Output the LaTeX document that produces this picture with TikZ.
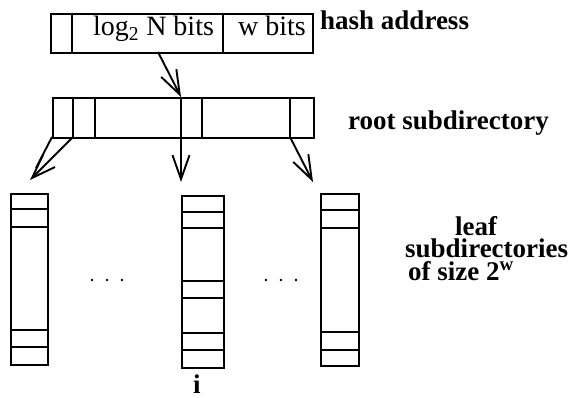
\documentclass[tikz,border=0pt]{standalone}
\usepackage{fontspec}
\setmainfont{Liberation Serif}
\usetikzlibrary{arrows.meta}
\tikzset{
  box/.style={draw, line width=1.9pt, rectangle, inner sep=0pt, anchor=north west},
  cell/.style={line width=1.9pt},
  arr/.style={line width=1.9pt, -{Straight Barb[length=24pt,width=17pt,line width=1.9pt]}},
  lbl/.style={anchor=base west, inner sep=0pt, font=\fontsize{27}{22.5}\selectfont\bfseries},
  txt/.style={anchor=base west, inner sep=0pt, font=\fontsize{28}{30}\selectfont},
  dot/.style={fill, circle, inner sep=0pt, minimum size=2.6pt}
}
\begin{document}
\begin{tikzpicture}[x=1pt,y=-1pt]
\useasboundingbox (0,0) rectangle (580,398);
% hash address
\node[box, minimum width=262pt, minimum height=39pt] (hash) at (50,13) {};
\draw[cell] (72,13) -- (72,52);
\draw[cell] (223,13) -- (223,52);
\node[txt] (logn) at (93,36) {log\textsubscript{2} N bits};
\node[txt] (wb) at (238,36) {w bits};
\node[lbl] (hashlbl) at (320,30) {hash address};
% root
\node[box, minimum width=261pt, minimum height=40pt] (root) at (52,97) {};
\foreach \x in {73,95,181,202,290} \draw[cell] (\x,97) -- (\x,137);
\node[lbl] (rootlbl) at (348,130) {root subdirectory};
% leaves
\node[box, minimum width=37pt, minimum height=171pt] (leafA) at (10,193) {};
\foreach \y in {209,227,330,347} \draw[cell] (10,\y) -- (47,\y);
\node[box, minimum width=42pt, minimum height=172pt] (leafB) at (181,195) {};
\foreach \y in {212,228,281,298,333,350} \draw[cell] (181,\y) -- (223,\y);
\node[box, minimum width=38pt, minimum height=172pt] (leafC) at (320,193) {};
\foreach \y in {210,228,332,350} \draw[cell] (320,\y) -- (358,\y);
% dots
\foreach \x in {92,107,122,266,281,296} \node[dot] at (\x,280) {};
% arrows
\coordinate (h0) at (158,52);
\coordinate (r0) at (181,97);
\draw[arr] (h0) -- (r0);
\coordinate (a0) at (73,137);
\coordinate (a1) at (52,137);
\coordinate (aT) at (30,180);
\coordinate (aM) at (36,168);
\draw[arr] (a0) -- (aT);
\draw[cell] (a1) -- (aM);
\coordinate (b0) at (181,137);
\coordinate (bT) at (181,182);
\draw[arr] (b0) -- (bT);
\coordinate (c0) at (290,137);
\coordinate (cT) at (313,182);
\draw[arr] (c0) -- (cT);
% leaf labels
\node[lbl, align=left] (leaflbl) at (405,280) {\hspace{50pt}leaf\\subdirectories\\\hspace{3pt}of size 2\textsuperscript{w}};
\node[lbl] (ilbl) at (193,393) {i};
\end{tikzpicture}
\end{document}
